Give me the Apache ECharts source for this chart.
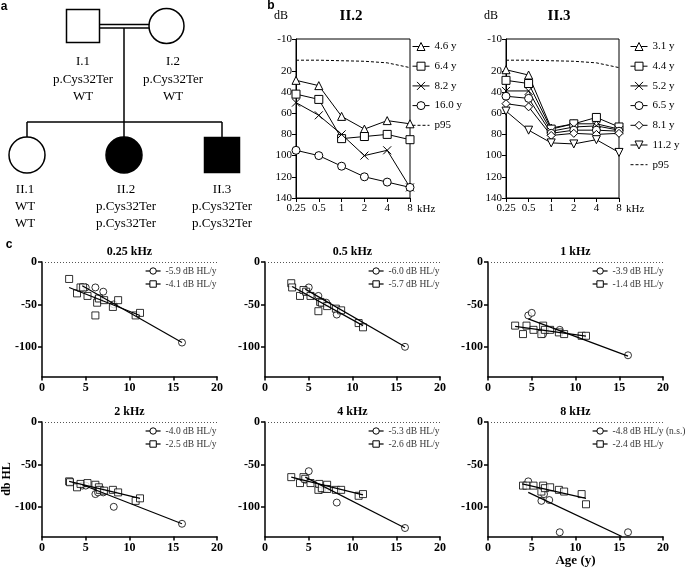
<!DOCTYPE html>
<html><head><meta charset="utf-8">
<script src="https://cdn.jsdelivr.net/npm/echarts@6/dist/echarts.min.js"></script>
<style>html,body{margin:0;padding:0;background:#fff}#c{width:685px;height:570px}</style>
</head><body><div id="c"></div>
<script>
// ---------- Panel b data ----------
const freqs = ['0.25','0.5','1','2','4','8'];
const yTicksB = [-10,0,20,40,60,80,100,120,140];
const ii2Names = ['4.6 y','6.4 y','8.2 y','16.0 y'];
const ii2_4_6 = [29,34,63,75,67,70];
const ii2_6_4 = [42,47,84,82,80,85];
const ii2_8_2 = [50,62,80,100,95,130];
const ii2_16_0 = [95,100,110,120,125,130];
const p95_ii2 = [10,10,10.5,11,12.5,17];
const ii3Names = ['3.1 y','4.4 y','5.2 y','6.5 y','8.1 y','11.2 y'];
const ii3_3_1 = [19,24,74,70,70,75];
const ii3_4_4 = [29,32,75,70,64,73];
const ii3_5_2 = [39,39,77,73,72,76];
const ii3_6_5 = [44,46,79,76,76,77];
const ii3_8_1 = [51,54,81,79,80,79];
const ii3_11_2 = [58,76,88,89,85,97];
const p95_ii3 = [10,10,10.5,11,12.5,17];

// ---------- Panel c data ----------
const cTitles = ['0.25 kHz','0.5 kHz','1 kHz','2 kHz','4 kHz','8 kHz'];
const ii2Slopes = ['-5.9 dB HL/y','-6.0 dB HL/y','-3.9 dB HL/y','-4.0 dB HL/y','-5.3 dB HL/y','-4.8 dB HL/y (n.s.)'];
const ii3Slopes = ['-4.1 dB HL/y','-5.7 dB HL/y','-1.4 dB HL/y','-2.5 dB HL/y','-2.6 dB HL/y','-2.4 dB HL/y'];
const yTicksC = [0,-50,-100];

const c025_ii2 = [[4.6,-30],[5.0,-30],[6.1,-30],[6.4,-43],[7.0,-35],[8.2,-50],[16,-95]];
const c025_ii3 = [[3.1,-20],[4.0,-37],[4.4,-30],[4.7,-30],[5.2,-40],[6.1,-63],[6.3,-48],[6.5,-43],[7.1,-45],[8.1,-53],[8.7,-45],[10.7,-63],[11.2,-60]];
const fit025_ii2 = [[4.6,-28],[16,-95]];
const fit025_ii3 = [[3.1,-30],[11.2,-63]];

const c05_ii2 = [[4.6,-35],[5.0,-30],[6.1,-40],[6.4,-48],[7.0,-48],[8.2,-62],[16,-100]];
const c05_ii3 = [[3.0,-25],[3.1,-30],[4.0,-40],[4.4,-33],[4.7,-35],[5.2,-40],[6.1,-58],[6.3,-47],[6.5,-48],[7.1,-52],[8.1,-55],[8.7,-57],[10.7,-72],[11.2,-77]];
const fit05_ii2 = [[4.6,-32],[16,-100]];
const fit05_ii3 = [[3.1,-29],[11.2,-75]];

const c1_ii2 = [[4.6,-63],[5.0,-60],[6.3,-85],[8.2,-80],[16,-110]];
const c1_ii3 = [[3.1,-75],[4.0,-85],[4.4,-75],[5.2,-80],[6.1,-85],[6.3,-75],[6.5,-80],[7.1,-80],[8.1,-83],[8.7,-85],[10.7,-87],[11.2,-87]];
const fit1_ii2 = [[4.6,-67],[16,-111]];
const fit1_ii3 = [[3.1,-76],[11.2,-87.5]];

const c2_ii2 = [[4.6,-75],[5.0,-75],[6.1,-85],[6.4,-83],[7.0,-83],[8.2,-100],[16,-120]];
const c2_ii3 = [[3.1,-70],[3.2,-71],[4.0,-77],[4.4,-73],[5.2,-72],[6.1,-74],[6.5,-77],[6.6,-80],[7.1,-81],[8.1,-80],[8.7,-83],[10.7,-93],[11.2,-90]];
const fit2_ii2 = [[4.6,-74],[16,-120]];
const fit2_ii3 = [[3.1,-70],[11.2,-90]];

const c4_ii2 = [[4.6,-68],[5.0,-58],[6.4,-80],[7.0,-78],[8.2,-95],[16,-125]];
const c4_ii3 = [[3.0,-65],[4.0,-72],[4.4,-65],[4.6,-67],[5.2,-72],[6.1,-80],[6.2,-73],[6.5,-78],[7.1,-74],[7.1,-79],[8.1,-80],[8.7,-80],[10.7,-87],[11.2,-85]];
const fit4_ii2 = [[4.6,-65],[16,-125]];
const fit4_ii3 = [[3.0,-65],[11.2,-86]];

const c8_ii2 = [[4.6,-70],[6.1,-93],[6.4,-85],[7.0,-92],[8.2,-130],[16,-130]];
const c8_ii3 = [[4.0,-75],[4.4,-75],[5.2,-75],[6.1,-82],[6.3,-75],[6.5,-78],[7.1,-77],[8.1,-80],[8.7,-82],[10.7,-85],[11.2,-97]];
const fit8_ii2 = [[4.6,-83],[15.3,-135]];
const fit8_ii3 = [[3.9,-73],[11.2,-90]];

// ---------- build ----------
const serif = '"Liberation Serif", "Times New Roman", serif';
const xPath = 'path://M0,0L10,10M10,0L0,10';
const cII2 = [c025_ii2,c05_ii2,c1_ii2,c2_ii2,c4_ii2,c8_ii2];
const cII3 = [c025_ii3,c05_ii3,c1_ii3,c2_ii3,c4_ii3,c8_ii3];
const fII2 = [fit025_ii2,fit05_ii2,fit1_ii2,fit2_ii2,fit4_ii2,fit8_ii2];
const fII3 = [fit025_ii3,fit05_ii3,fit1_ii3,fit2_ii3,fit4_ii3,fit8_ii3];

const grid = [
  {left:296, top:39, width:114, height:159, show:true, borderColor:'#000', borderWidth:1, outerBoundsMode:'none', containLabel:false},
  {left:506, top:39, width:113, height:159, show:true, borderColor:'#000', borderWidth:1, outerBoundsMode:'none', containLabel:false}
];
const cPos = [[42,262],[265,262],[488,262],[42,422],[265,422],[488,422]];
cPos.forEach(p => grid.push({left:p[0], top:p[1], width:175, height:114.5, outerBoundsMode:'none', containLabel:false}));

const xAxis = [], yAxis = [], series = [], legend = [];
const tickFont = {color:'#000', fontFamily:serif, fontSize:11};
[0,1].forEach(i => {
  xAxis.push({gridIndex:i, type:'category', data:freqs, boundaryGap:false,
    axisLine:{onZero:false, lineStyle:{color:'#000', width:1}},
    axisTick:{length:4, interval:0, lineStyle:{color:'#000'}},
    axisLabel:Object.assign({interval:0, margin:5}, tickFont),
    name:'kHz', nameLocation:'end', nameGap:7,
    nameTextStyle:{color:'#000', fontFamily:serif, fontSize:11, verticalAlign:'top', padding:[6,0,0,0]}});
  yAxis.push({gridIndex:i, type:'value', inverse:true, min:-10, max:140,
    axisLine:{show:true, onZero:false, lineStyle:{color:'#000', width:1}},
    axisTick:{show:true, length:4, customValues:yTicksB, lineStyle:{color:'#000'}},
    axisLabel:Object.assign({customValues:yTicksB, margin:4, showMinLabel:true, showMaxLabel:true,
      hideOverlap:false, lineHeight:8}, tickFont),
    splitLine:{show:false}});
});

function bSeries(name, data, symbol, rot, ax) {
  return {name, type:'line', xAxisIndex:ax, yAxisIndex:ax, data, symbol, symbolSize:8, symbolRotate:rot,
    showSymbol:true, lineStyle:{color:'#000', width:1},
    itemStyle:{color:'#fff', borderColor:'#000', borderWidth:1}, animation:false, z:3};
}
function p95Series(data, ax) {
  return {name:'p95', type:'line', xAxisIndex:ax, yAxisIndex:ax, data, symbol:'none',
    lineStyle:{color:'#000', width:1, type:[3,2]}, itemStyle:{color:'rgba(0,0,0,0)'}, animation:false};
}
const ii2Data = [ii2_4_6, ii2_6_4, ii2_8_2, ii2_16_0];
const ii2Sym = ['triangle','rect',xPath,'circle'];
ii2Data.forEach((d,k) => series.push(bSeries(ii2Names[k], d, ii2Sym[k], 0, 0)));
series.push(p95Series(p95_ii2, 0));
const ii3Data = [ii3_3_1, ii3_4_4, ii3_5_2, ii3_6_5, ii3_8_1, ii3_11_2];
const ii3Sym = ['triangle','rect',xPath,'circle','diamond','triangle'];
const ii3Rot = [0,0,0,0,0,180];
ii3Data.forEach((d,k) => series.push(bSeries(ii3Names[k], d, ii3Sym[k], ii3Rot[k], 1)));
series.push(p95Series(p95_ii3, 1));

const hiddenIcon = {color:'rgba(0,0,0,0)', borderColor:'rgba(0,0,0,0)', borderWidth:0};
const bLegend = (names, left) => ({orient:'vertical', left, top:41, padding:0, itemWidth:17, itemHeight:10, itemGap:8.7,
  selectedMode:false, textStyle:{color:'#000', fontFamily:serif, fontSize:11},
  itemStyle:{borderWidth:1, color:'#fff', borderColor:'#000'}, lineStyle:{width:1},
  data: names.map(n => ({name:n})).concat([{name:'p95', itemStyle:hiddenIcon}])});
legend.push(bLegend(ii2Names, 412));
legend.push(bLegend(ii3Names, 630));

const bold = {color:'#000', fontFamily:serif, fontSize:12, fontWeight:'bold'};
const legLeft = [145,368,592,145,368,592];
for (let i = 0; i < 6; i++) {
  const gi = i + 2;
  const xa = {gridIndex:gi, type:'value', min:0, max:20, interval:5,
    axisLine:{onZero:false, lineStyle:{color:'#000', width:1.5}},
    axisTick:{length:4, lineStyle:{color:'#000', width:1.5}},
    axisLabel:Object.assign({margin:5}, bold), splitLine:{show:false}};
  if (i === 5) Object.assign(xa, {name:'Age (y)', nameLocation:'middle', nameGap:18,
    nameTextStyle:{color:'#000', fontFamily:serif, fontSize:13, fontWeight:'bold'}});
  xAxis.push(xa);
  const ya = {gridIndex:gi, type:'value', min:-135, max:0,
    axisLine:{show:true, onZero:false, lineStyle:{color:'#000', width:1.5}},
    axisTick:{show:true, length:4, customValues:yTicksC, lineStyle:{color:'#000', width:1.5}},
    axisLabel:Object.assign({customValues:yTicksC, margin:5}, bold), splitLine:{show:false}};
  yAxis.push(ya);
  const open = {color:'#fff', borderColor:'#000', borderWidth:1};
  series.push({name:'II.2 '+cTitles[i], type:'scatter', xAxisIndex:gi, yAxisIndex:gi, data:cII2[i],
    symbol:'circle', symbolSize:7, itemStyle:open, animation:false,
    markLine:{silent:true, symbol:'none', label:{show:false}, animation:false,
      lineStyle:{type:[1,2], color:'#555', width:1}, data:[{yAxis:0}]}});
  series.push({name:'II.3 '+cTitles[i], type:'scatter', xAxisIndex:gi, yAxisIndex:gi, data:cII3[i],
    symbol:'rect', symbolSize:7, itemStyle:open, animation:false});
  series.push({name:ii2Slopes[i], type:'line', xAxisIndex:gi, yAxisIndex:gi, data:fII2[i],
    symbol:'circle', showSymbol:false, lineStyle:{color:'#000', width:1.2}, itemStyle:open, animation:false});
  series.push({name:ii3Slopes[i], type:'line', xAxisIndex:gi, yAxisIndex:gi, data:fII3[i],
    symbol:'rect', showSymbol:false, lineStyle:{color:'#000', width:1.2}, itemStyle:open, animation:false});
  legend.push({orient:'vertical', left:legLeft[i], top:cPos[i][1]+4, padding:0, itemWidth:15, itemHeight:8, itemGap:3,
    selectedMode:false, textStyle:{color:'#333', fontFamily:serif, fontSize:9.5},
    itemStyle:{borderWidth:1, color:'#fff', borderColor:'#000'}, lineStyle:{width:1.2},
    data:[{name:ii2Slopes[i]},{name:ii3Slopes[i]}]});
}

// ---------- graphics: pedigree & texts ----------
const S = {stroke:'#000', lineWidth:1.5, fill:'#fff'};
const F = {stroke:'#000', lineWidth:1.5, fill:'#000'};
const ln = (x1,y1,x2,y2) => ({type:'line', shape:{x1,y1,x2,y2}, style:{stroke:'#000', lineWidth:1.5}, silent:true});
const tx = (x,y,text,font,extra) => ({type:'text', x, y, silent:true,
  style:Object.assign({text, font, fill:'#000', align:'center', verticalAlign:'middle', textAlign:'center', textVerticalAlign:'middle'}, extra||{})});
const pf = '13px "Liberation Serif"';
const g = [
  {type:'rect', shape:{x:66.5, y:9.5, width:33, height:33}, style:S},
  {type:'circle', shape:{cx:166.5, cy:26, r:17.5}, style:S},
  ln(100,24.5,149,24.5), ln(100,28,149,28),
  ln(124,28,124,122), ln(27,122,222,122),
  ln(27,122,27,137), ln(124,122,124,137), ln(222,122,222,137),
  {type:'circle', shape:{cx:27, cy:155, r:18}, style:S},
  {type:'circle', shape:{cx:124, cy:155, r:18}, style:F},
  {type:'rect', shape:{x:204.5, y:137.5, width:35, height:35}, style:F},
  tx(83,62,'I.1',pf), tx(83,80,'p.Cys32Ter',pf), tx(83,97,'WT',pf),
  tx(173,62,'I.2',pf), tx(173,80,'p.Cys32Ter',pf), tx(173,97,'WT',pf),
  tx(25,190,'II.1',pf), tx(25,207,'WT',pf), tx(25,224,'WT',pf),
  tx(126,190,'II.2',pf), tx(126,207,'p.Cys32Ter',pf), tx(126,224,'p.Cys32Ter',pf),
  tx(222,190,'II.3',pf), tx(222,207,'p.Cys32Ter',pf), tx(222,224,'p.Cys32Ter',pf),
  tx(4,7,'a','bold 12px "Liberation Sans"'),
  tx(271,6,'b','bold 12px "Liberation Sans"'),
  tx(9,245,'c','bold 12px "Liberation Sans"'),
  tx(281,16,'dB','12px "Liberation Serif"'),
  tx(351,16,'II.2','bold 15px "Liberation Serif"'),
  tx(491,16,'dB','12px "Liberation Serif"'),
  tx(559,16,'II.3','bold 15px "Liberation Serif"'),
  Object.assign(tx(0,0,'db HL','bold 12px "Liberation Serif"'), {x:7, y:479, rotation:Math.PI/2})
];
const tCenters = [[129.5,251.5],[352.5,251.5],[575.5,251.5],[129.5,411.5],[352.5,411.5],[575.5,411.5]];
cTitles.forEach((t,i) => g.push(tx(tCenters[i][0], tCenters[i][1], t, 'bold 12px "Liberation Serif"')));

const chart = echarts.init(document.getElementById('c'));
chart.setOption({backgroundColor:'#fff', animation:false, grid, xAxis, yAxis, series, legend, graphic:{elements:g}});
</script></body></html>
